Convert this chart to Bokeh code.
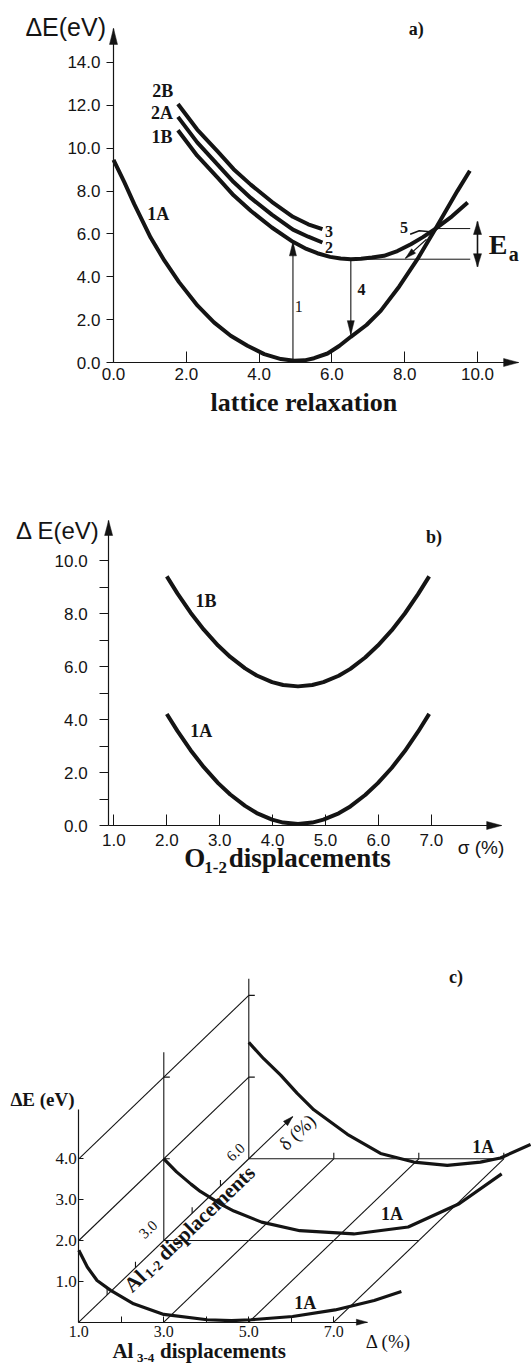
import math
from bokeh.plotting import figure
from bokeh.layouts import column
from bokeh.models import Range1d, FixedTicker, PrintfTickFormatter, Label, LinearAxis
from bokeh.embed import file_html
from bokeh.resources import INLINE

SANS = "Liberation Sans"
SERIF = "Liberation Serif"
INK = "#141414"

# ---------------- (a) energy vs lattice relaxation ----------------
a_xticks = [0, 2, 4, 6, 8, 10]
a_yticks = [0, 2, 4, 6, 8, 10, 12, 14]
a_x_1A = [0.0, 0.3, 0.57, 1.02, 1.4, 1.8, 2.31, 2.76, 3.22, 3.68, 4.14, 4.6, 4.96, 5.25, 5.51, 5.88, 6.2, 6.52, 6.95, 7.34, 7.85, 8.35, 8.85, 9.45, 9.79]
a_e_1A = [9.46, 8.4, 7.39, 5.83, 4.75, 3.75, 2.65, 1.87, 1.25, 0.78, 0.39, 0.16, 0.08, 0.1, 0.2, 0.42, 0.77, 1.2, 1.75, 2.41, 3.55, 4.82, 6.25, 8.01, 8.95]
a_x_1B = [1.77, 2.3, 2.86, 3.3, 3.77, 4.35, 4.93, 5.3, 5.6, 5.95, 6.24, 6.52, 6.8, 7.1, 7.43, 7.8, 8.17, 8.5, 8.85, 9.3, 9.73]
a_e_1B = [10.84, 9.65, 8.63, 7.8, 7.08, 6.3, 5.63, 5.3, 5.1, 4.93, 4.85, 4.82, 4.84, 4.9, 4.98, 5.2, 5.52, 5.85, 6.25, 6.82, 7.47]
a_x_2 = [1.77, 2.3, 2.86, 3.3, 3.77, 4.35, 4.93, 5.35, 5.74]
a_e_2A = [11.46, 10.27, 9.23, 8.42, 7.68, 6.9, 6.2, 5.87, 5.6]
a_e_2B = [12.06, 10.87, 9.85, 9.02, 8.3, 7.5, 6.8, 6.45, 6.22]
a_names = ["2B", "2A", "1B", "1A"]
a_name_x = [1.35, 1.33, 1.33, 1.23]
a_name_e = [12.69, 11.64, 10.51, 6.93]
# vertical transitions: 1 = absorption, 4 = emission
a_tr_x = [4.93, 6.52]
a_tr_from = [0.08, 4.82]
a_tr_to = [5.63, 1.3]
a_tr_names = ["1", "4"]
a_tr_name_x = [5.09, 6.81]
a_tr_name_e = [2.62, 3.41]
# activation barrier between the 1B minimum and the 1A/1B crossing
a_ea_levels = [4.82, 6.25]
a_ea_from = [6.52, 8.85]
a_ea_to = 9.8
a_ea_arrow_x = 10.0
a_ea_arrow = [4.47, 6.58]
# non-radiative path 5 near the crossing
a_x_5 = [8.15, 8.4, 8.7]
a_e_5 = [5.99, 6.15, 6.1]
a_arrow5 = [8.6, 5.75, 8.02, 4.86]
a_x_end, a_y_end = 11.13, 15.59

# ---------------- (b) energy vs O1-2 displacements ----------------
b_xticks = [1, 2, 3, 4, 5, 6, 7]
b_yticks = [0, 2, 4, 6, 8, 10]
b_yminor = [1, 3, 5, 7, 9]
b_x = [2.0, 2.2, 2.45, 2.7, 2.97, 3.2, 3.48, 3.7, 3.99, 4.2, 4.48, 4.75, 4.96, 5.25, 5.47, 5.75, 5.99, 6.25, 6.5, 6.75, 6.96]
b_e_1B = [9.4, 8.76, 8.03, 7.39, 6.79, 6.36, 5.93, 5.66, 5.41, 5.3, 5.25, 5.3, 5.41, 5.65, 5.91, 6.34, 6.79, 7.36, 8.0, 8.73, 9.4]
b_e_1A = [4.21, 3.57, 2.84, 2.2, 1.6, 1.17, 0.74, 0.47, 0.22, 0.11, 0.06, 0.11, 0.22, 0.46, 0.72, 1.15, 1.6, 2.17, 2.81, 3.54, 4.21]
b_x_start, b_x_end, b_y_end = 0.9, 8.33, 11.51

# ---------------- (c) energy vs Al3-4 (Delta) and Al1-2 (delta) ----------------
c_xticks = [1, 3, 5, 7]
c_xminor = [2, 4, 6]
c_yticks = [1, 2, 3, 4]
c_cuts = [0, 3, 6]                      # delta of the three cuts
c_cut_top = [5.2, 4.61, 4.41]           # height of each cut's energy line
c_cut_end = [7.79, 7.0, 7.0]            # Delta reach of each cut's base line
c_D = [
    [1.0, 1.2, 1.43, 1.75, 2.29, 3.0, 4.02, 4.59, 5.05, 6.03, 7.03, 7.95, 8.59],
    [1.0, 1.3, 1.64, 1.86, 2.36, 2.65, 3.3, 4.2, 5.47, 6.75, 7.95, 8.95],
    [1.0, 1.35, 1.75, 2.14, 2.53, 3.32, 4.1, 4.88, 5.67, 6.45, 6.92, 7.63],
]
c_E = [
    [1.76, 1.35, 1.02, 0.78, 0.45, 0.19, 0.06, 0.04, 0.06, 0.14, 0.3, 0.53, 0.75],
    [2.0, 1.68, 1.38, 1.2, 0.88, 0.72, 0.45, 0.24, 0.16, 0.33, 0.9, 1.63],
    [2.85, 2.45, 2.05, 1.6, 1.2, 0.6, 0.13, -0.08, -0.16, -0.08, 0.02, 0.35],
]
c_name_x = [6.07, 8.11, 10.26]
c_name_y = [0.47, 2.65, 4.3]
c_rail_D = [3, 5, 7]        # lines along delta at zero energy
c_rail_E = [2, 4]           # lines along delta on the Delta = 1 edge
c_delta_end = 7.55
c_delta_ticks = [1, 2, 4, 5]
c_cut_ticks = [2, 4]
c_back_ticks = [3, 5, 7]
C_K = 2.0 / 3.0             # oblique shift per unit of delta

# pixel scales and the pixel position of each panel's origin
A_SX, A_SY, A_OX, A_OY, A_H = 36.4, 21.43, 113.0, 362.0, 432
B_SX, B_SY, B_OX, B_OY, B_H = 52.9, 26.5, 60.5, 393.0, 460
C_SX, C_SY, C_OX, C_OY, C_H = 42.5, 40.85, 35.8, 429.7, 475


def make_fig(height, sx, sy, ox, oy):
    # the frame fills the whole canvas; axes are pinned inside it
    p = figure(width=531, height=height,
               x_range=Range1d(-ox / sx, (531 - ox) / sx),
               y_range=Range1d(-(height - oy) / sy, oy / sy),
               min_border_left=0, min_border_right=0,
               min_border_top=0, min_border_bottom=0,
               x_axis_location=None, y_axis_location=None,
               output_backend="svg", toolbar_location=None)
    p.grid.visible = False
    p.outline_line_color = None
    p.background_fill_color = "white"
    p.border_fill_color = "white"
    return p


def add_axis(p, side, at, bounds, ticks, minor, font, size, tin, tout, standoff):
    ax = LinearAxis(fixed_location=at, bounds=bounds)
    ax.ticker = FixedTicker(ticks=ticks, minor_ticks=minor)
    ax.formatter = PrintfTickFormatter(format="%.1f")
    ax.major_label_text_font = font
    ax.major_label_text_font_size = f"{size}px"
    ax.major_label_text_color = INK
    ax.major_tick_in = tin
    ax.major_tick_out = tout
    ax.minor_tick_in = tin
    ax.minor_tick_out = tout
    ax.major_tick_line_color = INK
    ax.minor_tick_line_color = INK
    ax.major_label_standoff = standoff
    ax.axis_line_color = INK
    ax.axis_line_width = 1.2
    p.add_layout(ax, side)
    return ax


def label(p, x, y, text, size, font=SERIF, bold=True, align="center", angle=0.0):
    p.add_layout(Label(x=x, y=y, text=text, text_font=font,
                       text_font_size=f"{size}px",
                       text_font_style="bold" if bold else "normal",
                       text_align=align, text_baseline="middle",
                       angle=angle, text_color=INK))


def head(p, x, y, ux, uy, sx, sy, length=14, width=7):
    # narrow filled head with its tip at (x, y), pointing along screen direction (ux, uy)
    n = math.hypot(ux, uy)
    ux, uy = ux / n, uy / n
    bx, by = -ux * length, -uy * length
    qx, qy = -uy * width / 2, ux * width / 2
    p.patch([x, x + (bx + qx) / sx, x + (bx - qx) / sx],
            [y, y + (by + qy) / sy, y + (by - qy) / sy],
            color=INK, line_width=0.5)


# ================= panel (a) =================
pa = make_fig(A_H, A_SX, A_SY, A_OX, A_OY)
add_axis(pa, "below", 0, (0, a_x_end), a_xticks, [], SANS, 17, 11, 0, 5)
add_axis(pa, "left", 0, (0, a_y_end), a_yticks, [], SANS, 17, 0, 7, 6)
head(pa, 0, a_y_end, 0, 1, A_SX, A_SY, 16, 8)
head(pa, a_x_end, 0, 1, 0, A_SX, A_SY, 15, 8)

for xs, es in [(a_x_1A, a_e_1A), (a_x_1B, a_e_1B), (a_x_2, a_e_2A), (a_x_2, a_e_2B)]:
    pa.line(xs, es, line_width=4, color=INK, line_join="round")

for x, e0, e1 in zip(a_tr_x, a_tr_from, a_tr_to):
    pa.segment(x, e0, x, e1, line_width=1.1, color=INK)
    head(pa, x, e1, 0, 1 if e1 > e0 else -1, A_SX, A_SY, 14, 7)
for t, x, e in zip(a_tr_names, a_tr_name_x, a_tr_name_e):
    label(pa, x, e, t, 16, bold=(t != "1"))

for lev, x0 in zip(a_ea_levels, a_ea_from):
    pa.segment(x0, lev, a_ea_to, lev, line_width=1.0, color=INK)
pa.segment(a_ea_arrow_x, a_ea_arrow[0], a_ea_arrow_x, a_ea_arrow[1], line_width=1.6, color=INK)
head(pa, a_ea_arrow_x, a_ea_arrow[1], 0, 1, A_SX, A_SY, 13, 8)
head(pa, a_ea_arrow_x, a_ea_arrow[0], 0, -1, A_SX, A_SY, 13, 8)
label(pa, 10.31, 5.52, "E", 28, align="left")
label(pa, 10.86, 5.04, "a", 20, align="left")

pa.line(a_x_5, a_e_5, line_width=1.6, color=INK)
pa.segment(a_arrow5[0], a_arrow5[1], a_arrow5[2], a_arrow5[3], line_width=1.1, color=INK)
head(pa, a_arrow5[2], a_arrow5[3], (a_arrow5[2] - a_arrow5[0]) * A_SX,
     (a_arrow5[3] - a_arrow5[1]) * A_SY, A_SX, A_SY, 11, 6)
label(pa, 7.98, 6.31, "5", 16)

for t, x, e in zip(a_names, a_name_x, a_name_e):
    label(pa, x, e, t, 18)
label(pa, a_x_2[-1] + 0.18, a_e_2B[-1] - 0.11, "3", 16)
label(pa, a_x_2[-1] + 0.18, a_e_2A[-1] - 0.22, "2", 16)
label(pa, 8.32, 15.55, "a)", 18)
label(pa, -2.42, 15.66, "ΔE(eV)", 25, font=SANS, bold=False, align="left")
label(pa, 5.23, -1.87, "lattice relaxation", 26)

# ================= panel (b) =================
pb = make_fig(B_H, B_SX, B_SY, B_OX, B_OY)
add_axis(pb, "below", 0, (b_x_start, b_x_end), b_xticks, [], SANS, 17, 11, 0, 8)
add_axis(pb, "left", b_x_start, (0, b_y_end), b_yticks, b_yminor, SANS, 17, 0, 9, 12)
head(pb, b_x_start, b_y_end, 0, 1, B_SX, B_SY, 15, 8)
head(pb, b_x_end, 0, 1, 0, B_SX, B_SY, 15, 8)
pb.line(b_x, b_e_1B, line_width=4, color=INK, line_join="round")
pb.line(b_x, b_e_1A, line_width=4, color=INK, line_join="round")
label(pb, 2.74, 8.46, "1B", 18)
label(pb, 2.65, 3.55, "1A", 18)
label(pb, 7.05, 10.9, "b)", 18)
label(pb, -0.85, 11.13, "Δ E(eV)", 24, font=SANS, bold=False, align="left")
label(pb, 7.5, -0.83, "σ (%)", 19, font=SANS, bold=False, align="left")
label(pb, 2.33, -1.23, "O", 27, align="left")
label(pb, 2.71, -1.59, "1-2", 17, align="left")
label(pb, 3.17, -1.23, "displacements", 27, align="left")

# ================= panel (c) =================
pc = make_fig(C_H, C_SX, C_SY, C_OX, C_OY)
add_axis(pc, "below", 0, (1, c_cut_end[0]), c_xticks, c_xminor, SERIF, 16, 6, 0, 4)
add_axis(pc, "left", 1, (0, c_cut_top[0]), c_yticks, [], SERIF, 17, 5, 0, 2)
head(pc, c_cut_end[0], 0, 1, 0, C_SX, C_SY, 11, 6)


def proj(D, d, E):
    return [v + C_K * d for v in D], [v + C_K * d for v in E]


# rear cuts: base line and energy line
for d, top, end in zip(c_cuts[1:], c_cut_top[1:], c_cut_end[1:]):
    xs, ys = proj([1, end], d, [0, 0])
    pc.line(xs, ys, line_width=1.1, color=INK)
    xs, ys = proj([1, 1], d, [0, top])
    pc.line(xs, ys, line_width=1.1, color=INK)
    for t in c_cut_ticks:
        xs, ys = proj([1], d, [t])
        pc.segment(xs[0], ys[0], xs[0] + 6 / C_SX, ys[0], line_width=1.1, color=INK)
# lines running along delta
for D in c_rail_D:
    x0, y0 = proj([D], 0, [0])
    x1, y1 = proj([D], c_cuts[-1], [0])
    pc.segment(x0[0], y0[0], x1[0], y1[0], line_width=1.1, color=INK)
for E in c_rail_E:
    x0, y0 = proj([1], 0, [E])
    x1, y1 = proj([1], c_cuts[-1], [E])
    pc.segment(x0[0], y0[0], x1[0], y1[0], line_width=1.1, color=INK)
for D in c_back_ticks:
    xs, ys = proj([D], c_cuts[-1], [0])
    pc.segment(xs[0], ys[0], xs[0], ys[0] + 6 / C_SY, line_width=1.1, color=INK)
# delta axis
x0, y0 = proj([1], 0, [0])
x1, y1 = proj([1], c_delta_end, [0])
pc.segment(x0[0], y0[0], x1[0], y1[0], line_width=1.1, color=INK)
head(pc, x1[0], y1[0], C_SX, C_SY, C_SX, C_SY, 10, 6)
for d in c_delta_ticks:
    xs, ys = proj([1], d, [0])
    pc.segment(xs[0], ys[0], xs[0], ys[0] + 6 / C_SY, line_width=1.1, color=INK)

# energy curves of the three cuts
for d, D, E in zip(c_cuts, c_D, c_E):
    xs, ys = proj(D, d, E)
    pc.line(xs, ys, line_width=3.2, color=INK, line_join="round")
for x, y in zip(c_name_x, c_name_y):
    label(pc, x, y, "1A", 18, align="left")

theta = math.atan2(C_SY, C_SX)
label(pc, 2.63, 2.27, "3.0", 15, bold=False, angle=theta)
label(pc, 4.69, 4.16, "6.0", 15, bold=False, angle=theta)
label(pc, 6.14, 4.65, "δ (%)", 19, bold=False, angle=theta)


def along(x0, y0, s, n):
    # point s px along the delta direction and n px to its lower right
    c, si = math.cos(theta), math.sin(theta)
    return x0 + (s * c + n * si) / C_SX, y0 + (s * si - n * c) / C_SY


for txt, size, s, n in [("Al", 21, 0, 0), ("1-2", 14, 23, 4), ("displacements", 21, 46, 0)]:
    x, y = along(2.146, 0.824, s, n)
    label(pc, x, y, txt, size, align="left", angle=theta)

label(pc, 1.79, -0.71, "Al", 21, align="left")
label(pc, 2.37, -0.88, "3-4", 13, align="left")
label(pc, 2.91, -0.71, "displacements", 21, align="left")
label(pc, 7.75, -0.48, "Δ (%)", 19, bold=False, align="left")
label(pc, -0.61, 5.46, "ΔE (eV)", 19, align="left")
label(pc, 9.71, 8.45, "c)", 18, align="left")

layout = column(pa, pb, pc)
open("out.html", "w").write(file_html(layout, INLINE))
